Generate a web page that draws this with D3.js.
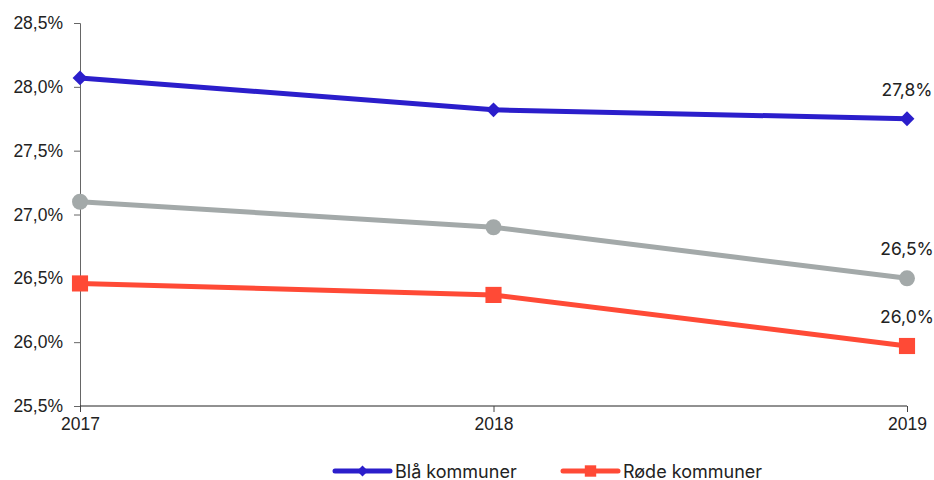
<!DOCTYPE html>
<html>
<head>
<meta charset="utf-8">
<script src="https://cdn.jsdelivr.net/npm/d3@7/dist/d3.min.js"></script>
<style>
  body { margin: 0; background: #fff; }
  svg { font-family: "Inter", "Noto Sans", sans-serif; }
</style>
</head>
<body>
<div id="chart"></div>
<script>
// data
const years = [2017, 2018, 2019];
const blaa = [28.07, 27.82, 27.75];
const graa = [27.10, 26.90, 26.50];
const roede = [26.46, 26.37, 25.97];
const yTicks = [25.5, 26.0, 26.5, 27.0, 27.5, 28.0, 28.5];
const endLabels = ["27,8%", "26,5%", "26,0%"];

const W = 934, H = 480;
const svg = d3.select("#chart").append("svg").attr("width", W).attr("height", H);

const x = d3.scalePoint().domain(years).range([80, 907]);
const y = d3.scaleLinear().domain([25.5, 28.5]).range([406, 23]);
const fmt = v => v.toFixed(1).replace(".", ",") + "%";

// y axis
const yAxis = svg.append("g").attr("transform", "translate(80,0)")
  .call(d3.axisLeft(y).tickValues(yTicks).tickFormat(fmt).tickSize(6).tickPadding(11));
yAxis.select(".domain").attr("stroke", "#666");
yAxis.selectAll(".tick line").attr("stroke", "#666");
yAxis.selectAll("text").attr("font-size", 17.5).attr("fill", "#222");

// x axis
const xAxis = svg.append("g").attr("transform", "translate(0,406)")
  .call(d3.axisBottom(x).tickSize(6).tickPadding(6).tickSizeOuter(0));
xAxis.select(".domain").attr("stroke", "#222").attr("d", "M80,0H907");
xAxis.selectAll(".tick line").attr("stroke", "#444");
xAxis.selectAll("text").attr("font-size", 17.5).attr("fill", "#222");

// diamond = square rotated 45°
const series = [
  { name: "Grå", values: graa, color: "#a3a9a9", shape: d3.symbolCircle, size: 200, rot: 0 },
  { name: "Røde kommuner", values: roede, color: "#ff4a36", shape: d3.symbolSquare, size: 260, rot: 0 },
  { name: "Blå kommuner", values: blaa, color: "#2b1ecb", shape: d3.symbolSquare, size: 110, rot: 45 }
];

const line = d3.line().x((d, i) => x(years[i])).y(d => y(d));

series.forEach(s => {
  svg.append("path").datum(s.values)
    .attr("d", line).attr("fill", "none")
    .attr("stroke", s.color).attr("stroke-width", 5).attr("stroke-linejoin", "round");
  svg.selectAll(null).data(s.values).enter().append("path")
    .attr("d", d3.symbol().type(s.shape).size(s.size))
    .attr("transform", (d, i) => `translate(${x(years[i])},${y(d)}) rotate(${s.rot})`)
    .attr("fill", s.color);
});

// labels at last point
[blaa, graa, roede].forEach((vals, k) => {
  svg.append("text")
    .attr("x", x(years[2])).attr("y", y(vals[2]) - 23)
    .attr("text-anchor", "middle").attr("font-size", 17.5).attr("fill", "#222")
    .text(endLabels[k]);
});

// legend
const legend = [series[2], series[1]];
const lx = [335, 563];
legend.forEach((s, i) => {
  const g = svg.append("g").attr("transform", `translate(${lx[i]},471)`);
  g.append("line").attr("x1", 0).attr("x2", 55).attr("stroke", s.color)
    .attr("stroke-width", 5).attr("stroke-linecap", "round");
  g.append("path").attr("d", d3.symbol().type(s.shape).size(s.rot ? 60 : 130))
    .attr("transform", `translate(27.5,0) rotate(${s.rot})`).attr("fill", s.color);
  g.append("text").attr("x", 60).attr("y", 6.5).attr("font-size", 18).attr("fill", "#222").text(s.name);
});
</script>
</body>
</html>
